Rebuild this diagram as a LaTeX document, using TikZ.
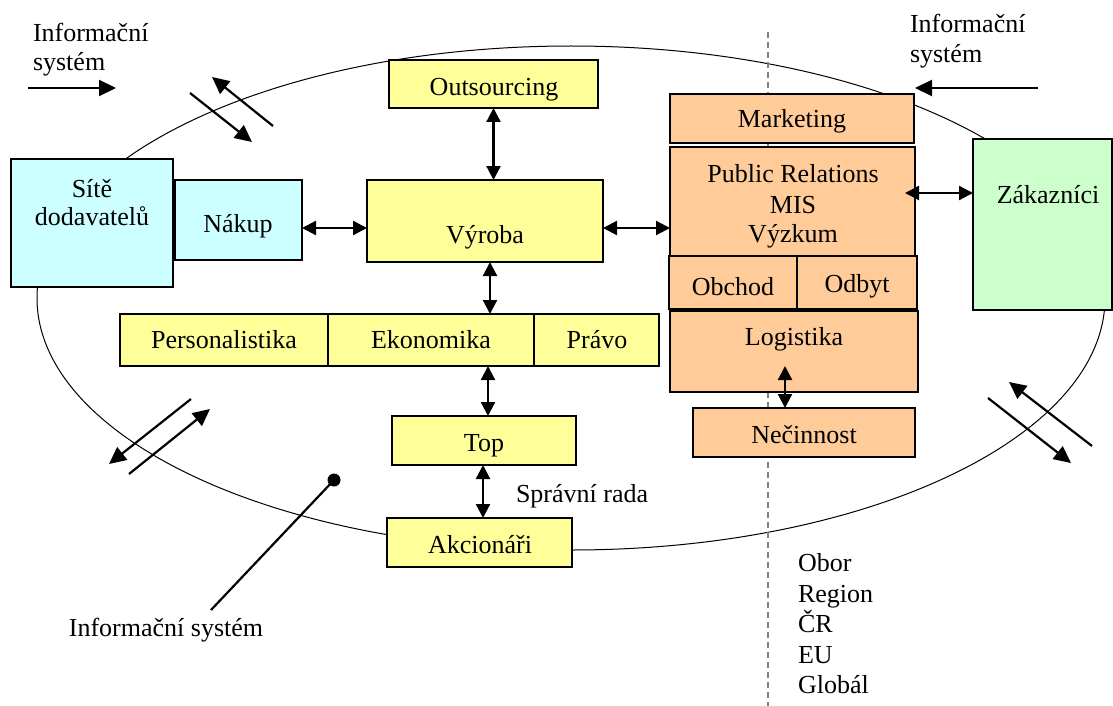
\documentclass[tikz,border=0pt]{standalone}
\usepackage{fontspec}
\setmainfont{Liberation Serif}
\usetikzlibrary{arrows.meta}
\definecolor{cyanfill}{HTML}{CCFFFF}
\definecolor{yelfill}{HTML}{FFFF99}
\definecolor{orafill}{HTML}{FFCC99}
\definecolor{grnfill}{HTML}{CCFFCC}
\newcommand\blkbox[6]{\node[blk, fill=#6, minimum width={#4-#2}, minimum height={#5-#3}] (#1) at ({(#2+#4)/2},{(#3+#5)/2}) {};}
\begin{document}
\begin{tikzpicture}[x=1pt,y=-1pt,
  every node/.style={font=\fontsize{26}{30}\selectfont, inner sep=0pt, outer sep=0pt},
  blk/.style={draw, line width=2pt, rectangle},
  lbl/.style={anchor=base},
  lbw/.style={anchor=base west},
  dbl/.style={line width=2.2pt, {Triangle[length=14pt,width=14pt]}-{Triangle[length=14pt,width=14pt]}},
  sgl/.style={line width=2.2pt, -{Triangle[length=17pt,width=16pt]}},
  orbit/.style={line width=1pt},
  border/.style={gray, line width=1.2pt, dash pattern=on 6pt off 4pt}
]
\useasboundingbox (0,0) rectangle (1113,706);
% environment ellipse and dashed border
\draw[orbit] (571,298) ellipse [x radius=534, y radius=252];
\coordinate (dtop) at (768,32);
\coordinate (dbot) at (768,706);
\draw[border] (dtop) -- (dbot);

% boxes
\blkbox{site}{11}{159}{173}{287}{cyanfill}
\blkbox{nakup}{175}{180}{302}{260}{cyanfill}
\blkbox{outs}{389}{60}{598}{108}{yelfill}
\blkbox{vyroba}{367}{180}{603}{262}{yelfill}
\blkbox{pers}{120}{314}{328}{366}{yelfill}
\blkbox{ekon}{328}{314}{534}{366}{yelfill}
\blkbox{pravo}{534}{314}{659}{366}{yelfill}
\blkbox{top}{392}{416}{576}{465}{yelfill}
\blkbox{akc}{387}{518}{572}{567}{yelfill}
\blkbox{mkt}{670}{94}{914}{143}{orafill}
\blkbox{pr}{670}{147}{915}{256}{orafill}
\blkbox{obchod}{669}{256}{797}{309}{orafill}
\blkbox{odbyt}{797}{256}{917}{309}{orafill}
\blkbox{logist}{670}{311}{918}{392}{orafill}
\blkbox{necin}{693}{408}{915}{457}{orafill}
\blkbox{zak}{973}{139}{1112}{310}{grnfill}

% texts in boxes
\node[lbl] (tsite1) at (92,197) {Sítě};
\node[lbl] (tsite2) at (92,225) {dodavatelů};
\node[lbl] (tnakup) at (238,232) {Nákup};
\node[lbl] (touts) at (494,96) {Outsourcing};
\node[lbl] (tvyroba) at (485,243) {Výroba};
\node[lbl] (tpers) at (224,348) {Personalistika};
\node[lbl] (tekon) at (431,348) {Ekonomika};
\node[lbl] (tpravo) at (597,348) {Právo};
\node[lbl] (ttop) at (484,451) {Top};
\node[lbl] (takc) at (480,553) {Akcionáři};
\node[lbl] (tmkt) at (792,128) {Marketing};
\node[lbl] (tpr1) at (793,182) {Public Relations};
\node[lbl] (tpr2) at (793,213) {MIS};
\node[lbl] (tpr3) at (793,242) {Výzkum};
\node[lbl] (tobchod) at (733,295) {Obchod};
\node[lbl] (todbyt) at (857,292) {Odbyt};
\node[lbl] (tlogist) at (794,345) {Logistika};
\node[lbl] (tnecin) at (804,443) {Nečinnost};
\node[lbl] (tzak) at (1048,203) {Zákazníci};

% free texts
\node[lbw] (isl1) at (33,42) {Informační};
\node[lbw] (isl2) at (33,71) {systém};
\node[lbw] (isr1) at (910,33) {Informační};
\node[lbw] (isr2) at (910,63) {systém};
\node[lbl] (isb) at (166,636) {Informační systém};
\node[lbw] (sprava) at (516,502) {Správní rada};
\node[lbw] (obor) at (798,571) {Obor};
\node[lbw] (region) at (798,602) {Region};
\node[lbw] (cr) at (798,632) {ČR};
\node[lbw] (eu) at (798,663) {EU};
\node[lbw] (global) at (798,693) {Globál};

% connectors between boxes
\draw[dbl] (nakup.east |- 0,228) -- (vyroba.west |- 0,228);
\draw[dbl] (vyroba.east |- 0,228) -- (pr.west |- 0,228);
\draw[dbl] (outs.south) -- (outs.south |- vyroba.north);
\draw[dbl] (490,0 |- vyroba.south) -- (490,0 |- ekon.north);
\draw[dbl] (488,0 |- ekon.south) -- (488,0 |- top.north);
\draw[dbl] (483,0 |- top.south) -- (483,0 |- akc.north);
\coordinate (prtip) at (905,193);
\draw[dbl] (prtip) -- (prtip -| zak.west);
\coordinate (logtip) at (785,366);
\draw[dbl] (logtip) -- (logtip |- necin.north);

% information-system arrows
\coordinate (isla) at (28,88);  \coordinate (islb) at (116,88);
\draw[sgl] (isla) -- (islb);
\coordinate (isra) at (1038,88); \coordinate (isrb) at (915,88);
\draw[sgl] (isra) -- (isrb);

% flows across the boundary
\coordinate (tla1) at (273,126); \coordinate (tla2) at (212,77);
\coordinate (tlb1) at (190,93);  \coordinate (tlb2) at (252,142);
\draw[sgl] (tla1) -- (tla2);
\draw[sgl] (tlb1) -- (tlb2);
\coordinate (bla1) at (191,399); \coordinate (bla2) at (109,464);
\coordinate (blb1) at (129,474); \coordinate (blb2) at (210,409);
\draw[sgl] (bla1) -- (bla2);
\draw[sgl] (blb1) -- (blb2);
\coordinate (bra1) at (1092,446); \coordinate (bra2) at (1009,382);
\coordinate (brb1) at (988,398);  \coordinate (brb2) at (1071,463);
\draw[sgl] (bra1) -- (bra2);
\draw[sgl] (brb1) -- (brb2);

% pin to the information system
\coordinate (pinfoot) at (211,610);
\coordinate (pinhead) at (334,480);
\draw[line width=2.2pt] (pinfoot) -- (pinhead);
\fill (pinhead) circle [radius=6.5pt];
\end{tikzpicture}
\end{document}
